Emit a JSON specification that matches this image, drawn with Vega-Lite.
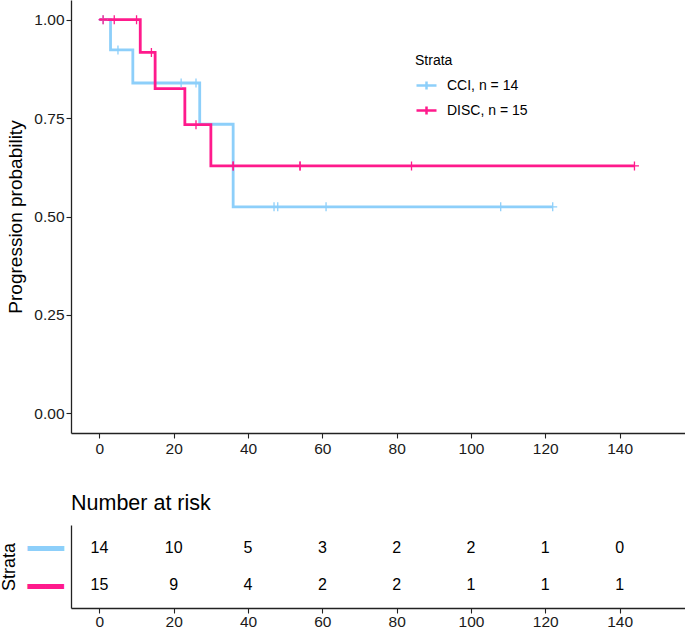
{
  "$schema": "https://vega.github.io/schema/vega-lite/v6.json",
  "padding": 0,
  "background": "white",
  "spacing": 92,
  "bounds": "flush",
  "config": {
    "view": {"stroke": null},
    "font": "Liberation Sans",
    "axis": {
      "grid": false,
      "domainColor": "#222222",
      "domainWidth": 1.3,
      "tickColor": "#222222",
      "tickWidth": 1.1,
      "tickSize": 5,
      "labelColor": "#1a1a1a",
      "labelFontSize": 15.5,
      "labelPadding": 3,
      "titleFontWeight": "normal",
      "titleColor": "#000000"
    },
    "title": {"fontWeight": "normal", "color": "#000000"}
  },
  "datasets": {
    "curve": [
      {"strata": "CCI, n = 14", "time": 0, "surv": 1},
      {"strata": "CCI, n = 14", "time": 3, "surv": 0.9231},
      {"strata": "CCI, n = 14", "time": 9, "surv": 0.8392},
      {"strata": "CCI, n = 14", "time": 27, "surv": 0.7343},
      {"strata": "CCI, n = 14", "time": 36, "surv": 0.5245},
      {"strata": "CCI, n = 14", "time": 122, "surv": 0.5245},
      {"strata": "DISC, n = 15", "time": 0, "surv": 1},
      {"strata": "DISC, n = 15", "time": 11, "surv": 0.9167},
      {"strata": "DISC, n = 15", "time": 15, "surv": 0.825},
      {"strata": "DISC, n = 15", "time": 23, "surv": 0.7333},
      {"strata": "DISC, n = 15", "time": 30, "surv": 0.6286},
      {"strata": "DISC, n = 15", "time": 144, "surv": 0.6286}
    ],
    "censor": [
      {"strata": "CCI, n = 14", "time": 1, "surv": 1},
      {"strata": "CCI, n = 14", "time": 5, "surv": 0.9231},
      {"strata": "CCI, n = 14", "time": 22, "surv": 0.8392},
      {"strata": "CCI, n = 14", "time": 26, "surv": 0.8392},
      {"strata": "CCI, n = 14", "time": 47, "surv": 0.5245},
      {"strata": "CCI, n = 14", "time": 48, "surv": 0.5245},
      {"strata": "CCI, n = 14", "time": 61, "surv": 0.5245},
      {"strata": "CCI, n = 14", "time": 108, "surv": 0.5245},
      {"strata": "CCI, n = 14", "time": 122, "surv": 0.5245},
      {"strata": "DISC, n = 15", "time": 1, "surv": 1},
      {"strata": "DISC, n = 15", "time": 4, "surv": 1},
      {"strata": "DISC, n = 15", "time": 10, "surv": 1},
      {"strata": "DISC, n = 15", "time": 14, "surv": 0.9167},
      {"strata": "DISC, n = 15", "time": 26, "surv": 0.7333},
      {"strata": "DISC, n = 15", "time": 36, "surv": 0.6286},
      {"strata": "DISC, n = 15", "time": 36, "surv": 0.6286},
      {"strata": "DISC, n = 15", "time": 54, "surv": 0.6286},
      {"strata": "DISC, n = 15", "time": 54, "surv": 0.6286},
      {"strata": "DISC, n = 15", "time": 84, "surv": 0.6286},
      {"strata": "DISC, n = 15", "time": 144, "surv": 0.6286}
    ],
    "risk": [
      {"strata": "CCI, n = 14", "time": 0, "n": 14},
      {"strata": "CCI, n = 14", "time": 20, "n": 10},
      {"strata": "CCI, n = 14", "time": 40, "n": 5},
      {"strata": "CCI, n = 14", "time": 60, "n": 3},
      {"strata": "CCI, n = 14", "time": 80, "n": 2},
      {"strata": "CCI, n = 14", "time": 100, "n": 2},
      {"strata": "CCI, n = 14", "time": 120, "n": 1},
      {"strata": "CCI, n = 14", "time": 140, "n": 0},
      {"strata": "DISC, n = 15", "time": 0, "n": 15},
      {"strata": "DISC, n = 15", "time": 20, "n": 9},
      {"strata": "DISC, n = 15", "time": 40, "n": 4},
      {"strata": "DISC, n = 15", "time": 60, "n": 2},
      {"strata": "DISC, n = 15", "time": 80, "n": 2},
      {"strata": "DISC, n = 15", "time": 100, "n": 1},
      {"strata": "DISC, n = 15", "time": 120, "n": 1},
      {"strata": "DISC, n = 15", "time": 140, "n": 1}
    ]
  },
  "vconcat": [
    {
      "width": 614,
      "height": 433,
      "encoding": {
        "x": {
          "field": "time",
          "type": "quantitative",
          "scale": {"domain": [-7.64, 157.6], "nice": false, "zero": false},
          "axis": {"values": [0, 20, 40, 60, 80, 100, 120, 140], "title": null}
        },
        "y": {
          "field": "surv",
          "type": "quantitative",
          "scale": {"domain": [-0.05, 1.05], "nice": false, "zero": false},
          "axis": {
            "values": [0, 0.25, 0.5, 0.75, 1],
            "format": ".2f",
            "title": "Progression probability",
            "titleFontSize": 19,
            "titlePadding": 8,
            "labelPadding": 2
          }
        },
        "color": {
          "field": "strata",
          "type": "nominal",
          "scale": {"domain": ["CCI, n = 14", "DISC, n = 15"], "range": ["#8DCFFA", "#FF1A8C"]},
          "legend": {
            "title": "Strata",
            "orient": "none",
            "legendX": 344,
            "legendY": 54,
            "titleFontSize": 14,
            "titleFontWeight": "normal",
            "titleColor": "#000000",
            "titlePadding": 6,
            "labelFontSize": 14,
            "labelColor": "#000000",
            "labelOffset": 9,
            "rowPadding": 4,
            "symbolType": "M-1,0L1,0M0,-0.4L0,0.4",
            "symbolSize": 400,
            "symbolStrokeWidth": 2.5
          }
        }
      },
      "layer": [
        {
          "data": {"name": "curve"},
          "mark": {"type": "line", "interpolate": "step-after", "strokeWidth": 2.8}
        },
        {
          "data": {"name": "censor"},
          "mark": {"type": "point", "shape": "M-1,0L1,0M0,-1L0,1", "size": 81, "strokeWidth": 1.3, "filled": false, "opacity": 1}
        },
        {
          "data": {"values": [{"label": "Log−rank p−value = 0.6822"}]},
          "mark": {"type": "text", "align": "left", "baseline": "middle", "fontSize": 13.5, "color": "#000000"},
          "encoding": {
            "x": {"datum": 35.2},
            "y": {"datum": 0.148},
            "text": {"field": "label"},
            "color": null
          }
        }
      ]
    },
    {
      "width": 614,
      "height": 83,
      "title": {"text": "Number at risk", "anchor": "start", "frame": "group", "fontSize": 21.5, "offset": 11},
      "data": {"name": "risk"},
      "mark": {"type": "text", "fontSize": 16, "color": "#000000"},
      "encoding": {
        "x": {
          "field": "time",
          "type": "quantitative",
          "scale": {"domain": [-7.64, 157.6], "nice": false, "zero": false},
          "axis": {"values": [0, 20, 40, 60, 80, 100, 120, 140], "title": null, "labelPadding": 1}
        },
        "y": {
          "field": "strata",
          "type": "nominal",
          "scale": {"type": "point", "padding": 0.6, "domain": ["CCI, n = 14", "DISC, n = 15"]},
          "axis": {
            "title": "Strata",
            "titleFontSize": 18,
            "titlePadding": 8,
            "ticks": false,
            "labelExpr": "'━━'",
            "labelFont": "DejaVu Sans",
            "labelFontSize": 30,
            "labelPadding": 8,
            "labelOffset": 2,
            "labelColor": {"condition": {"test": "datum.value === 'CCI, n = 14'", "value": "#8DCFFA"}, "value": "#FF1A8C"}
          }
        },
        "text": {"field": "n", "type": "quantitative"}
      }
    }
  ]
}
